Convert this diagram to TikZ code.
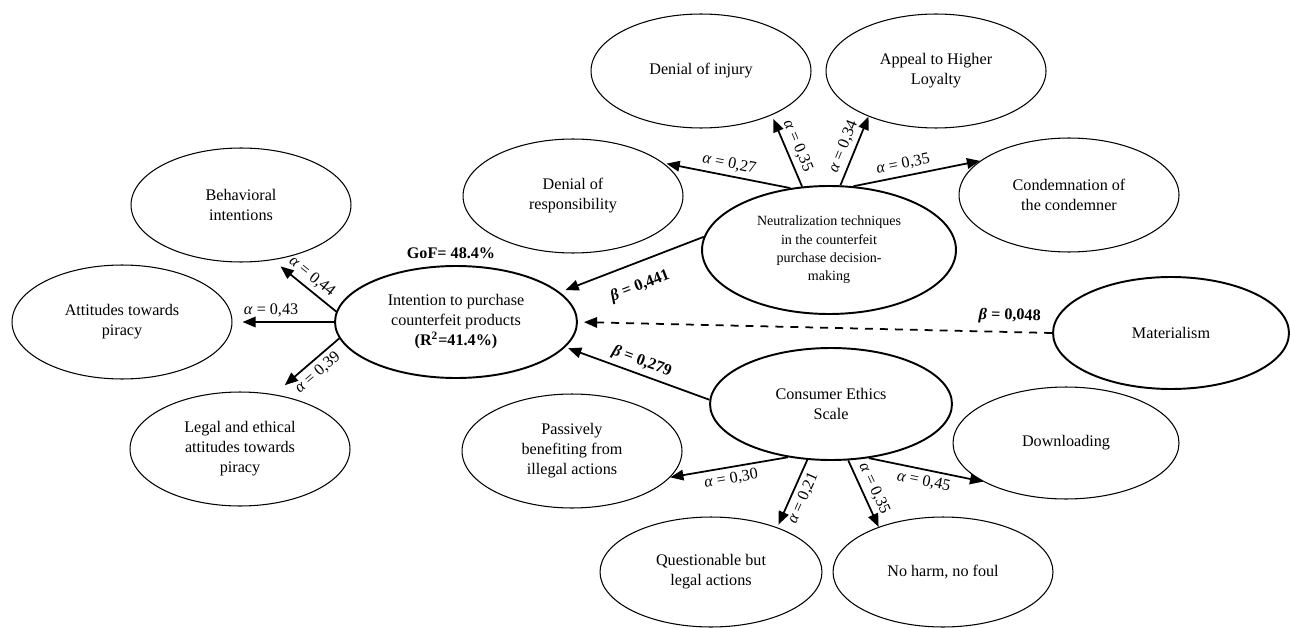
\documentclass[tikz,border=0pt]{standalone}
\usepackage{fontspec}
\setmainfont{Liberation Serif}
\usetikzlibrary{shapes.geometric,arrows.meta}
\begin{document}
\begin{tikzpicture}[x=0.02cm,y=-0.02cm,
 ell/.style={ellipse,draw,line width=0.6pt,inner sep=0pt,minimum width=4.4cm,minimum height=2.28cm,align=center,font=\fontsize{9.2}{11.4}\selectfont},
 bigell/.style={ell,line width=1.1pt},
 arr/.style={line width=1pt,-{Triangle[length=7.5pt,width=6pt]}},
 lab/.style={font=\fontsize{9.2}{11}\selectfont,sloped,inner sep=2.5pt},
 blab/.style={lab,font=\bfseries\fontsize{9.2}{11}\selectfont}]
\useasboundingbox (0,0) rectangle (1290,628);
% nodes
\node[ell] (beh) at (241,205) {Behavioral\\intentions};
\node[ell] (att) at (122,322) {Attitudes towards\\piracy};
\node[ell] (leg) at (240,449) {Legal and ethical\\attitudes towards\\piracy};
\node[bigell,minimum width=4.84cm,minimum height=2.24cm] (int) at (456,322) {Intention to purchase\\counterfeit products\\\textbf{(R\textsuperscript{2}=41.4\%)}};
\node[ell] (dor) at (573,196) {Denial of\\responsibility};
\node[ell] (doi) at (701,71) {Denial of injury};
\node[ell] (app) at (936,71) {Appeal to Higher\\Loyalty};
\node[ell] (con) at (1069,195) {Condemnation of\\the condemner};
\node[bigell,minimum width=5.08cm,minimum height=2.56cm,font=\fontsize{8}{10.4}\selectfont] (neut) at (829,250) {Neutralization techniques\\in the counterfeit\\purchase decision-\\making};
\node[bigell,minimum width=4.72cm,minimum height=2.24cm] (mat) at (1171,333) {Materialism};
\node[bigell,minimum width=4.84cm,minimum height=2.24cm] (ces) at (831,404) {Consumer Ethics\\Scale};
\node[ell] (pas) at (572,451) {Passively\\benefiting from\\illegal actions};
\node[ell,minimum width=4.44cm,minimum height=2.2cm] (que) at (711,572) {Questionable but\\legal actions};
\node[ell,minimum height=2.2cm] (noh) at (943,572) {No harm, no foul};
\node[ell,minimum width=4.52cm,minimum height=2.24cm] (dow) at (1066,443) {Downloading};
\node[font=\bfseries\fontsize{9.2}{11}\selectfont] (gof) at (451,253) {GoF= 48.4\%};
% intention indicators
\draw[arr,shorten >=0.2cm] (int.175) -- node[lab,above]{\textit{α} = 0,44} (beh.300);
\draw[arr,shorten >=0.2cm] (int.180) -- node[lab,above,pos=0.62]{\textit{α} = 0,43} (att.0);
\draw[arr,shorten >=0.28cm] (int.188) -- node[lab,below,pos=0.45]{\textit{α} = 0,39} (leg.58);
% neutralization indicators
\draw[arr,shorten >=0.06cm] (neut.122) -- node[lab,above]{\textit{α} = 0,27} (dor.20);
\draw[arr,shorten >=0.08cm] (neut.113) -- node[lab,above]{\textit{α} = 0,35} (doi.-32);
\draw[arr] (neut.80) -- node[lab,above]{\textit{α} = 0,34} (app.214);
\draw[arr] (neut.69) -- node[lab,above,pos=0.41]{\textit{α} = 0,35} (con.159);
% structural paths
\draw[arr,shorten >=0.12cm] (neut.174) -- node[blab,below=6pt]{\textit{β} = 0,441} (int.16);
\draw[arr,dashed,dash pattern=on 4.5pt off 4pt,shorten >=0.12cm] (mat.180) -- node[blab,above=2pt,pos=0.09]{\textit{β} = 0,048} (int.0);
\draw[arr,shorten >=0.06cm] (ces.178) -- node[blab,above]{\textit{β} = 0,279} (int.-13);
% consumer ethics indicators
\draw[arr] (ces.231) -- node[lab,below]{\textit{α} = 0,30} (pas.-15);
\draw[arr,shorten >=0.06cm] (ces.247) -- node[lab,below]{\textit{α} = 0,21} (que.34);
\draw[arr] (ces.287) -- node[lab,above]{\textit{α} = 0,35} (noh.145);
\draw[arr] (ces.305) -- node[lab,below]{\textit{α} = 0,45} (dow.205);
\end{tikzpicture}
\end{document}
